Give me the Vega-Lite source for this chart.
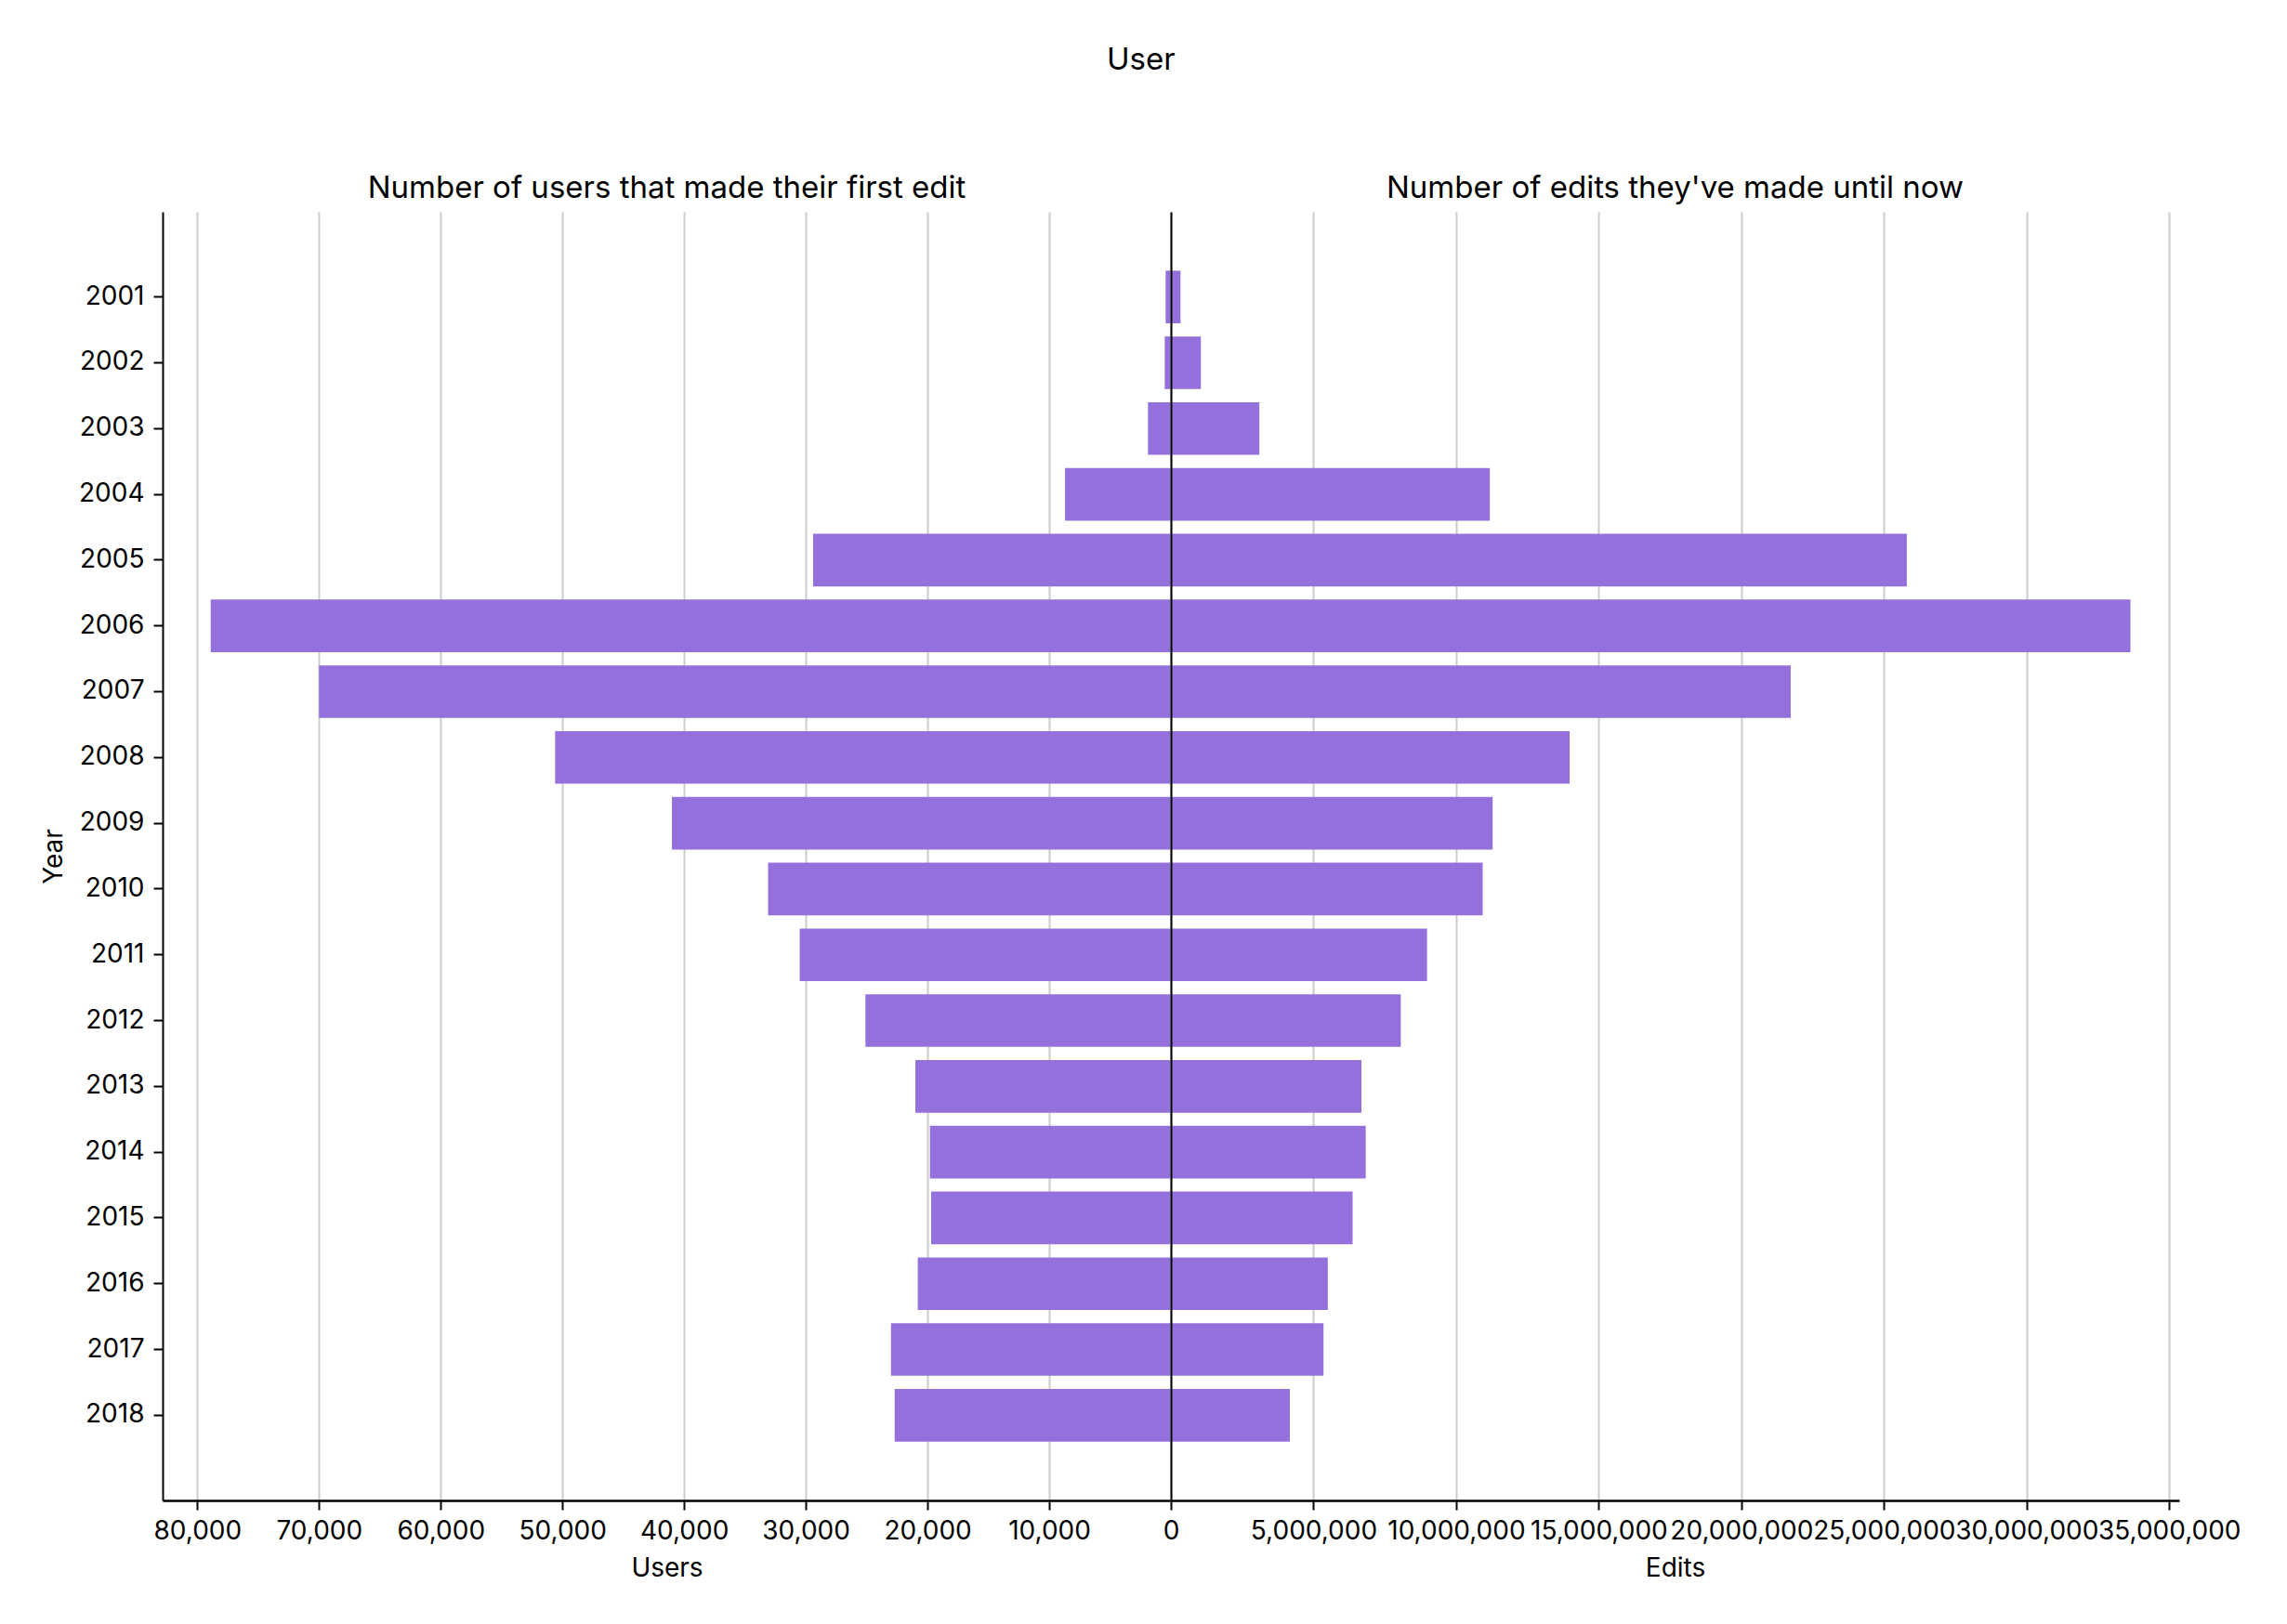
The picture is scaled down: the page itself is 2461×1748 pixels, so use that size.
{
  "$schema": "https://vega.github.io/schema/vega-lite/v6.json",
  "background": "white",
  "padding": {"left": 44, "top": 49, "right": 10, "bottom": 10},
  "title": {"text": "User", "fontSize": 33, "font": "Inter", "fontWeight": "normal", "color": "black", "anchor": "middle", "frame": "bounds", "offset": 105},
  "data": {"values": [
    {"Year": 2001, "Users": 435, "Edits": 336000},
    {"Year": 2002, "Users": 510, "Edits": 1050000},
    {"Year": 2003, "Users": 1885, "Edits": 3100000},
    {"Year": 2004, "Users": 8700, "Edits": 11180000},
    {"Year": 2005, "Users": 29400, "Edits": 25800000},
    {"Year": 2006, "Users": 78900, "Edits": 33640000},
    {"Year": 2007, "Users": 70000, "Edits": 21730000},
    {"Year": 2008, "Users": 50600, "Edits": 13980000},
    {"Year": 2009, "Users": 41000, "Edits": 11280000},
    {"Year": 2010, "Users": 33100, "Edits": 10930000},
    {"Year": 2011, "Users": 30500, "Edits": 8980000},
    {"Year": 2012, "Users": 25100, "Edits": 8060000},
    {"Year": 2013, "Users": 21000, "Edits": 6680000},
    {"Year": 2014, "Users": 19800, "Edits": 6830000},
    {"Year": 2015, "Users": 19700, "Edits": 6370000},
    {"Year": 2016, "Users": 20800, "Edits": 5500000},
    {"Year": 2017, "Users": 23000, "Edits": 5350000},
    {"Year": 2018, "Users": 22700, "Edits": 4170000}
  ]},
  "spacing": 0,
  "bounds": "flush",
  "config": {
    "view": {"stroke": null},
    "font": "Inter",
    "title": {"font": "Inter", "fontSize": 33, "fontWeight": "normal", "color": "black"},
    "axis": {
      "labelFont": "Inter", "labelFontSize": 28, "labelColor": "black",
      "titleFont": "Inter", "titleFontSize": 28, "titleFontWeight": "normal", "titleColor": "black",
      "tickColor": "black", "tickSize": 10, "tickWidth": 2,
      "domainColor": "black", "domainWidth": 2.5,
      "gridColor": "#cccccc", "gridWidth": 2
    }
  },
  "hconcat": [
    {
      "width": 1085,
      "height": 1387,
      "title": {"text": "Number of users that made their first edit", "offset": 8},
      "mark": {"type": "bar", "color": "#9370DB"},
      "encoding": {
        "y": {
          "field": "Year", "type": "ordinal",
          "scale": {"paddingInner": 0.2, "paddingOuter": 0.895},
          "axis": {"title": "Year", "labelPadding": 10, "titlePadding": 12, "grid": false, "domainWidth": 2}
        },
        "x": {
          "field": "Users", "type": "quantitative",
          "scale": {"domain": [0, 82850], "reverse": true, "nice": false, "zero": true},
          "axis": {"title": "Users", "values": [10000, 20000, 30000, 40000, 50000, 60000, 70000, 80000], "format": ",d", "grid": true, "labelOverlap": false, "labelFlush": false, "labelBound": false, "labelPadding": 9, "titlePadding": 12}
        }
      }
    },
    {
      "width": 1085,
      "height": 1387,
      "title": {"text": "Number of edits they've made until now", "offset": 8},
      "mark": {"type": "bar", "color": "#9370DB"},
      "encoding": {
        "y": {
          "field": "Year", "type": "ordinal",
          "scale": {"paddingInner": 0.2, "paddingOuter": 0.895},
          "axis": {"title": null, "labels": false, "ticks": false, "grid": false, "domainColor": "black", "domainWidth": 2, "zindex": 1}
        },
        "x": {
          "field": "Edits", "type": "quantitative",
          "scale": {"domain": [0, 35350000], "nice": false, "zero": true},
          "axis": {"title": "Edits", "values": [0, 5000000, 10000000, 15000000, 20000000, 25000000, 30000000, 35000000], "format": ",d", "grid": true, "labelOverlap": false, "labelFlush": false, "labelBound": false, "labelPadding": 9, "titlePadding": 12}
        }
      }
    }
  ]
}
